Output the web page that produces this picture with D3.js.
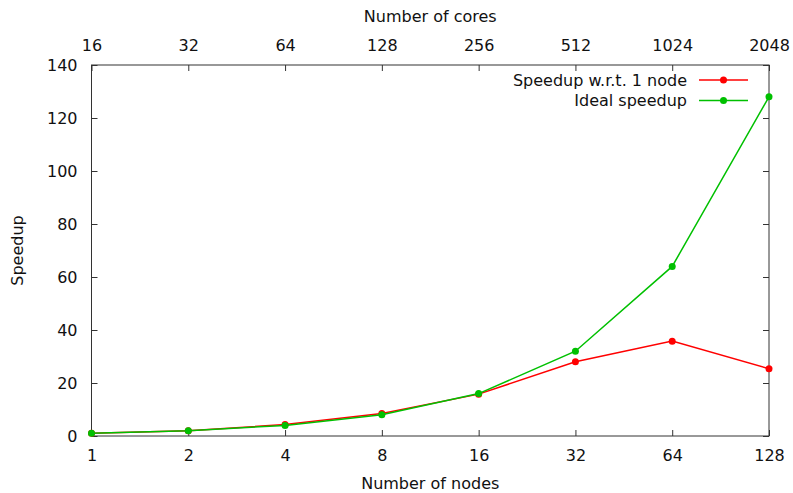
<!DOCTYPE html>
<html lang="en">
<head>
<meta charset="utf-8">
<title>Speedup</title>
<script src="https://cdn.jsdelivr.net/npm/d3@7"></script>
<style>
  body { margin: 0; background: #fff; }
  text { font-family: "DejaVu Sans", sans-serif; font-size: 16px; fill: #111; }
  .axis path, .axis line { stroke: #333; stroke-width: 1; }
</style>
</head>
<body>
<script>
// data
var nodes = [1, 2, 4, 8, 16, 32, 64, 128];
var cores = [16, 32, 64, 128, 256, 512, 1024, 2048];
var speedup = [1, 2.0, 4.3, 8.5, 15.8, 28.0, 35.8, 25.4];
var ideal = [1, 2, 4, 8, 16, 32, 64, 128];
var yTicks = [0, 20, 40, 60, 80, 100, 120, 140];

var W = 793, H = 493;
var margin = {top: 65, right: 24, bottom: 57, left: 91.5};

var svg = d3.select("body").append("svg")
    .attr("width", W).attr("height", H);

var x = d3.scaleLog().base(2).domain([1, 128]).range([margin.left, W - margin.right]);
var xTop = d3.scaleLog().base(2).domain([16, 2048]).range([margin.left, W - margin.right]);
var y = d3.scaleLinear().domain([0, 140]).range([H - margin.bottom, margin.top]);

// frame
svg.append("rect")
    .attr("x", x(1)).attr("y", y(140))
    .attr("width", x(128) - x(1)).attr("height", y(0) - y(140))
    .attr("fill", "none").attr("stroke", "#333");

// axes, ticks point inward
svg.append("g").attr("class", "axis")
    .attr("transform", "translate(0," + y(0) + ")")
    .call(d3.axisBottom(x).tickValues(nodes).tickFormat(d3.format("d")).tickSizeInner(-6).tickSizeOuter(0).tickPadding(14));
svg.append("g").attr("class", "axis")
    .attr("transform", "translate(0," + y(140) + ")")
    .call(d3.axisTop(xTop).tickValues(cores).tickFormat(d3.format("d")).tickSizeInner(-6).tickSizeOuter(0).tickPadding(14));
svg.append("g").attr("class", "axis")
    .attr("transform", "translate(" + x(1) + ",0)")
    .call(d3.axisLeft(y).tickValues(yTicks).tickSizeInner(-6).tickSizeOuter(0).tickPadding(14));
svg.append("g").attr("class", "axis")
    .attr("transform", "translate(" + x(128) + ",0)")
    .call(d3.axisRight(y).tickValues(yTicks).tickSizeInner(-6).tickSizeOuter(0).tickFormat(""));
svg.selectAll(".axis text").style("font-size", "16px").attr("fill", "#111")
    .style("font-family", '"DejaVu Sans", sans-serif');
svg.selectAll(".axis path.domain").remove();

// axis titles
svg.append("text").attr("x", (x(1) + x(128)) / 2).attr("y", 489)
    .attr("text-anchor", "middle").text("Number of nodes");
svg.append("text").attr("x", (x(1) + x(128)) / 2).attr("y", 22)
    .attr("text-anchor", "middle").text("Number of cores");
svg.append("text").attr("transform", "translate(23," + (y(70)) + ") rotate(-90)")
    .attr("text-anchor", "middle").text("Speedup");

// series
var series = [
  {name: "Speedup w.r.t. 1 node", values: speedup, color: "#ff0000"},
  {name: "Ideal speedup", values: ideal, color: "#00c000"}
];

var line = d3.line().x(function(d, i) { return x(nodes[i]); }).y(function(d) { return y(d); });

series.forEach(function(s, k) {
  svg.append("path").attr("d", line(s.values))
      .attr("fill", "none").attr("stroke", s.color).attr("stroke-width", 1.5);
  svg.selectAll(".pt" + k).data(s.values).enter().append("circle")
      .attr("cx", function(d, i) { return x(nodes[i]); })
      .attr("cy", function(d) { return y(d); })
      .attr("r", 3.5).attr("fill", s.color);

  // legend
  var ly = 80 + k * 20.5;
  svg.append("text").attr("x", 687).attr("y", ly).attr("dy", "0.35em")
      .attr("text-anchor", "end").text(s.name);
  svg.append("line").attr("x1", 699).attr("x2", 748).attr("y1", ly).attr("y2", ly)
      .attr("stroke", s.color).attr("stroke-width", 1.5);
  svg.append("circle").attr("cx", 723.5).attr("cy", ly).attr("r", 3.5).attr("fill", s.color);
});
</script>
</body>
</html>
